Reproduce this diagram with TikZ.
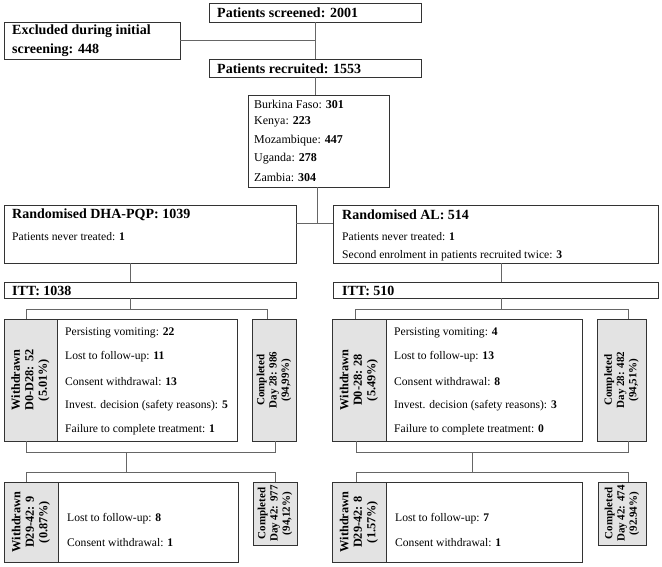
\documentclass[tikz,border=0pt]{standalone}
\usepackage{fontspec}
\setmainfont{Liberation Serif}
\newcommand\mybox[6]{\node[#1, minimum width={(#5-#3)*1pt}, minimum height={(#6-#4)*1pt}] (#2) at (#3,#4) {};}
\begin{document}
\begin{tikzpicture}[x=1pt,y=-1pt,
  box/.style={draw=black!80, line width=0.8pt, anchor=north west, inner sep=0pt, outer sep=0pt},
  greybox/.style={box, fill=gray!22},
  conn/.style={draw=black!60, line width=0.8pt},
  ttl/.style={anchor=west, font=\fontsize{14}{19}\selectfont\bfseries, inner sep=0pt},
  txt/.style={anchor=west, font=\fontsize{11.6}{14}\selectfont, inner sep=0pt},
  ctxt/.style={anchor=west, font=\fontsize{12}{14}\selectfont, inner sep=0pt},
  vtxt/.style={rotate=90, align=center, font=\fontsize{12.3}{13.5}\selectfont\bfseries, inner sep=0pt},
  vctxt/.style={rotate=90, align=center, font=\fontsize{11}{12.3}\selectfont\bfseries, inner sep=0pt}]
\useasboundingbox (0,0) rectangle (662,566);
% top boxes
\mybox{box}{scr}{209}{3}{421}{22}
\mybox{box}{exc}{4}{22}{180}{59}
\mybox{box}{rec}{209}{59}{421}{77}
\mybox{box}{cty}{248}{95}{389}{187}
\mybox{box}{dha}{4}{205}{296}{263}
\mybox{box}{al}{333}{205}{658}{263}
\mybox{box}{itta}{4}{282}{296}{298}
\mybox{box}{ittb}{333}{282}{658}{298}
% first row
\mybox{greybox}{wda}{4}{319}{57}{441}
\mybox{box}{rsa}{57}{319}{237}{441}
\mybox{greybox}{cpa}{252}{319}{296}{441}
\mybox{greybox}{wdb}{332}{319}{386}{441}
\mybox{box}{rsb}{386}{319}{582}{441}
\mybox{greybox}{cpb}{597}{319}{646}{441}
% second row
\mybox{greybox}{wdc}{4}{482}{58}{562}
\mybox{box}{rsc}{58}{482}{238}{562}
\mybox{greybox}{cpc}{253}{482}{297}{545}
\mybox{greybox}{wdd}{332}{482}{386}{562}
\mybox{box}{rsd}{386}{482}{582}{562}
\mybox{greybox}{cpd}{598}{482}{646}{545}
% texts
\node[ttl] (tscr) at (217,13) {Patients screened: 2001};
\node[ttl, align=left] (texc) at (12,40.5) {Excluded during initial\\screening: 448};
\node[ttl] (trec) at (217,68.5) {Patients recruited: 1553};
\node[ctxt] (c1) at (254,104) {Burkina Faso: \textbf{301}};
\node[ctxt] (c2) at (254,122) {Kenya: \textbf{223}};
\node[ctxt] (c3) at (254,140.5) {Mozambique: \textbf{447}};
\node[ctxt] (c4) at (254,159) {Uganda: \textbf{278}};
\node[ctxt] (c5) at (254,177) {Zambia: \textbf{304}};
\node[ttl] (tdha) at (12,215) {Randomised DHA-PQP: 1039};
\node[txt] (dha1) at (12,236.5) {Patients never treated: \textbf{1}};
\node[ttl] (tal) at (342,215) {Randomised AL: 514};
\node[txt] (al1) at (342,236.5) {Patients never treated: \textbf{1}};
\node[txt] (al2) at (342,255.5) {Second enrolment in patients recruited twice: \textbf{3}};
\node[ttl] (titta) at (12,290.5) {ITT: 1038};
\node[ttl] (tittb) at (342,290.5) {ITT: 510};
\node[vtxt] (twda) at (wda.center) {Withdrawn\\D0-D28: 52\\(5.01\%)};
\node[vctxt] (tcpa) at (cpa.center) {Completed\\Day 28: 986\\(94,99\%)};
\node[vtxt] (twdb) at (wdb.center) {Withdrawn\\D0-28: 28\\(5.49\%)};
\node[vctxt] (tcpb) at (cpb.center) {Completed\\Day 28: 482\\(94,51\%)};
\node[vtxt] (twdc) at (wdc.center) {Withdrawn\\D29-42: 9\\(0.87\%)};
\node[vctxt] (tcpc) at (cpc.center) {Completed\\Day 42: 977\\(94,12\%)};
\node[vtxt] (twdd) at (wdd.center) {Withdrawn\\D29-42: 8\\(1.57\%)};
\node[vctxt] (tcpd) at (cpd.center) {Completed\\Day 42: 474\\(92.94\%)};
\node[txt] (ra1) at (65,332.5) {Persisting vomiting: \textbf{22}};
\node[txt] (ra2) at (65,357) {Lost to follow-up: \textbf{11}};
\node[txt] (ra3) at (65,381.5) {Consent withdrawal: \textbf{13}};
\node[txt] (ra4) at (65,406) {Invest. decision (safety reasons): \textbf{5}};
\node[txt] (ra5) at (65,430) {Failure to complete treatment: \textbf{1}};
\node[txt] (rb1) at (394,332.5) {Persisting vomiting: \textbf{4}};
\node[txt] (rb2) at (394,357) {Lost to follow-up: \textbf{13}};
\node[txt] (rb3) at (394,381.5) {Consent withdrawal: \textbf{8}};
\node[txt] (rb4) at (394,406) {Invest. decision (safety reasons): \textbf{3}};
\node[txt] (rb5) at (394,430) {Failure to complete treatment: \textbf{0}};
\node[txt] (rc1) at (67,518.5) {Lost to follow-up: \textbf{8}};
\node[txt] (rc2) at (67,543) {Consent withdrawal: \textbf{1}};
\node[txt] (rd1) at (395,518.5) {Lost to follow-up: \textbf{7}};
\node[txt] (rd2) at (395,543) {Consent withdrawal: \textbf{1}};
% connector coordinates
\coordinate (ja) at (315,40);
\coordinate (jb) at (317,223);
\coordinate (ka) at (130,309);
\coordinate (kb) at (501,309);
\coordinate (la) at (126,452);
\coordinate (lb) at (472,452);
\coordinate (ma) at (126,472);
\coordinate (mb) at (472,472);
% connectors
\draw[conn] (scr.south -| ja) -- (rec.north -| ja);
\draw[conn] (exc.east |- ja) -- (ja);
\draw[conn] (rec.south -| ja) -- (cty.north -| ja);
\draw[conn] (cty.south -| jb) -- (jb);
\draw[conn] (dha.east |- jb) -- (al.west |- jb);
\draw[conn] (dha.south -| ka) -- (itta.north -| ka);
\draw[conn] (itta.south -| ka) -- (ka);
\draw[conn] (wda.north -| 26,0) -- (26,309) -- (267,309) -- (cpa.north -| 267,0);
\draw[conn] (al.south -| kb) -- (ittb.north -| kb);
\draw[conn] (ittb.south -| kb) -- (kb);
\draw[conn] (wdb.north -| 355,0) -- (355,309) -- (628,309) -- (cpb.north -| 628,0);
\draw[conn] (wda.south -| 26,0) -- (26,452) -- (275,452) -- (cpa.south -| 275,0);
\draw[conn] (la) -- (ma);
\draw[conn] (wdc.north -| 26,0) -- (26,472) -- (275,472) -- (cpc.north -| 275,0);
\draw[conn] (wdb.south -| 356,0) -- (356,452) -- (628,452) -- (cpb.south -| 628,0);
\draw[conn] (lb) -- (mb);
\draw[conn] (wdd.north -| 356,0) -- (356,472) -- (628,472) -- (cpd.north -| 628,0);
\end{tikzpicture}
\end{document}
